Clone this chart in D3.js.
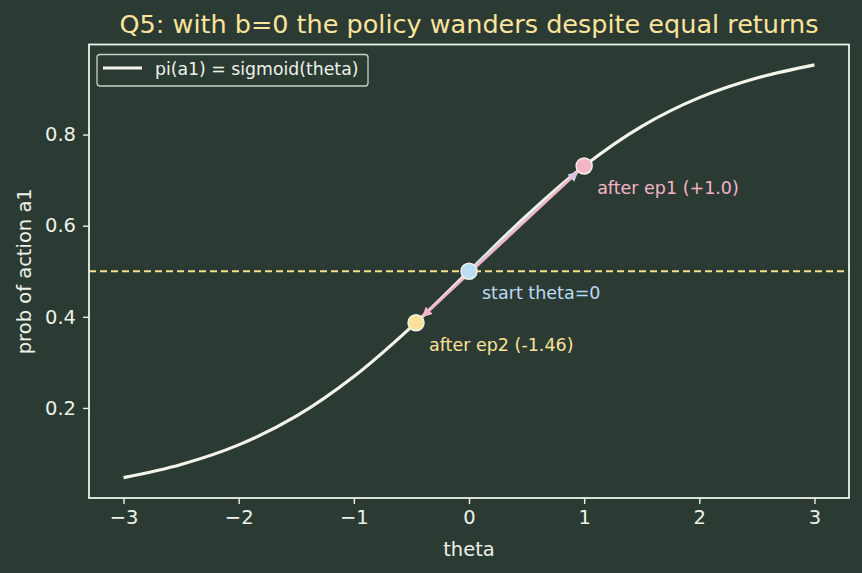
<!DOCTYPE html>
<html>
<head>
<meta charset="utf-8">
<script src="https://cdn.jsdelivr.net/npm/d3@7"></script>
<style>
  body { margin: 0; background: #2b3a33; }
  text { font-family: 'DejaVu Sans', sans-serif; }
</style>
</head>
<body>
<script>
const width = 862
const height = 573

// curva pi(a1)
const thetaGrid = [-3, -2.5, -2, -1.5, -1, -0.5, 0, 0.5, 1, 1.5, 2, 2.5, 3]
const probGrid = [0.047, 0.076, 0.119, 0.182, 0.269, 0.378, 0.5, 0.622, 0.731, 0.818, 0.881, 0.924, 0.953]

// pasos de la politica
const stepNames = ['start theta=0', 'after ep1 (+1.0)', 'after ep2 (-1.46)']
const stepTheta = [0, 1, -0.46]
const stepProb = [0.5, 0.731, 0.387]
const stepColors = ['#bcdcf6', '#f5b5c8', '#fbe29a']

const xTicks = [-3, -2, -1, 0, 1, 2, 3]
const yTicks = [0.2, 0.4, 0.6, 0.8]

const fg = '#eef2ea'
const bg = '#2b3a33'

const x = d3.scaleLinear().domain([-3.3, 3.3]).range([89, 849])
const y = d3.scaleLinear().domain([0.00237, 0.99763]).range([498, 44.5])

const svg = d3.select('body').append('svg').attr('width', width).attr('height', height)
svg.append('rect').attr('width', width).attr('height', height).attr('fill', bg)

// marcadores de flecha
const defs = svg.append('defs')
stepColors.forEach((c, i) => {
  defs.append('marker')
    .attr('id', 'head' + i)
    .attr('viewBox', '0 -5 10 10')
    .attr('refX', 10).attr('refY', 0)
    .attr('markerUnits', 'userSpaceOnUse')
    .attr('markerWidth', 12).attr('markerHeight', 10)
    .attr('orient', 'auto')
    .append('path').attr('d', 'M0,-5L10,0L0,5Z').attr('fill', c)
})

// ejes
const xAxis = svg.append('g')
  .attr('transform', `translate(0,${y.range()[0]})`)
  .call(d3.axisBottom(x).tickValues(xTicks).tickFormat(d => d < 0 ? '\u2212' + Math.abs(d) : d).tickSize(6).tickPadding(6))
const yAxis = svg.append('g')
  .attr('transform', `translate(${x.range()[0]},0)`)
  .call(d3.axisLeft(y).tickValues(yTicks).tickFormat(d3.format('.1f')).tickSize(6).tickPadding(7))

;[xAxis, yAxis].forEach(a => {
  a.select('.domain').remove()
  a.selectAll('line').attr('stroke', fg).attr('stroke-width', 1.4)
  a.selectAll('text').attr('fill', fg).style('font-size', '19.5px')
})

// linea 0.5
svg.append('line')
  .attr('x1', x.range()[0]).attr('x2', x.range()[1])
  .attr('y1', y(0.5)).attr('y2', y(0.5))
  .attr('stroke', '#f7dd8e').attr('stroke-width', 2)
  .attr('stroke-dasharray', '7,4')

// curva sigmoide
const line = d3.line().x(d => x(d[0])).y(d => y(d[1])).curve(d3.curveCatmullRom)
svg.append('path')
  .datum(thetaGrid.map((t, i) => [t, probGrid[i]]))
  .attr('d', line)
  .attr('fill', 'none')
  .attr('stroke', '#f3f5ea')
  .attr('stroke-width', 3.2)

// flechas entre pasos
function arrow(i, j, color, mk) {
  const x1 = x(stepTheta[i]), y1 = y(stepProb[i])
  const x2 = x(stepTheta[j]), y2 = y(stepProb[j])
  const len = Math.hypot(x2 - x1, y2 - y1)
  const ux = (x2 - x1) / len, uy = (y2 - y1) / len
  svg.append('line')
    .attr('x1', x1 + ux * 3).attr('y1', y1 + uy * 3)
    .attr('x2', x2 - ux * 8).attr('y2', y2 - uy * 8)
    .attr('stroke', color).attr('stroke-width', 2.6)
    .attr('marker-end', `url(#${mk})`)
}
arrow(0, 1, stepColors[0], 'head0')
arrow(1, 2, stepColors[1], 'head1')

// puntos
svg.selectAll('circle.step')
  .data(stepNames)
  .join('circle')
  .attr('class', 'step')
  .attr('cx', (d, i) => x(stepTheta[i]))
  .attr('cy', (d, i) => y(stepProb[i]))
  .attr('r', 8)
  .attr('fill', (d, i) => stepColors[i])
  .attr('stroke', fg)
  .attr('stroke-width', 1.5)

svg.selectAll('text.step')
  .data(stepNames)
  .join('text')
  .attr('class', 'step')
  .attr('x', (d, i) => x(stepTheta[i]) + 13)
  .attr('y', (d, i) => y(stepProb[i]) + 28)
  .attr('fill', (d, i) => stepColors[i])
  .style('font-size', '17.5px')
  .text(d => d)

// marco
svg.append('rect')
  .attr('x', x.range()[0]).attr('y', y.range()[1])
  .attr('width', x.range()[1] - x.range()[0])
  .attr('height', y.range()[0] - y.range()[1])
  .attr('fill', 'none').attr('stroke', fg).attr('stroke-width', 1.8)

// leyenda
const leg = svg.append('g')
leg.append('rect')
  .attr('x', 97).attr('y', 54.5).attr('width', 271).attr('height', 31.5)
  .attr('rx', 3).attr('fill', bg).attr('stroke', '#c9d2c6').attr('stroke-width', 1.3)
leg.append('line')
  .attr('x1', 103).attr('x2', 142).attr('y1', 68).attr('y2', 68)
  .attr('stroke', '#f3f5ea').attr('stroke-width', 3.2)
leg.append('text')
  .attr('x', 155).attr('y', 74.5)
  .attr('fill', fg).style('font-size', '17.3px')
  .text('pi(a1) = sigmoid(theta)')

// titulos
svg.append('text')
  .attr('x', (x.range()[0] + x.range()[1]) / 2).attr('y', 33)
  .attr('text-anchor', 'middle').attr('fill', '#fbe49c')
  .style('font-size', '25.5px')
  .text('Q5: with b=0 the policy wanders despite equal returns')

svg.append('text')
  .attr('x', (x.range()[0] + x.range()[1]) / 2).attr('y', 556)
  .attr('text-anchor', 'middle').attr('fill', fg)
  .style('font-size', '19.5px')
  .text('theta')

svg.append('text')
  .attr('transform', `translate(31,${(y.range()[0] + y.range()[1]) / 2}) rotate(-90)`)
  .attr('text-anchor', 'middle').attr('fill', fg)
  .style('font-size', '19.5px')
  .text('prob of action a1')
</script>
</body>
</html>
